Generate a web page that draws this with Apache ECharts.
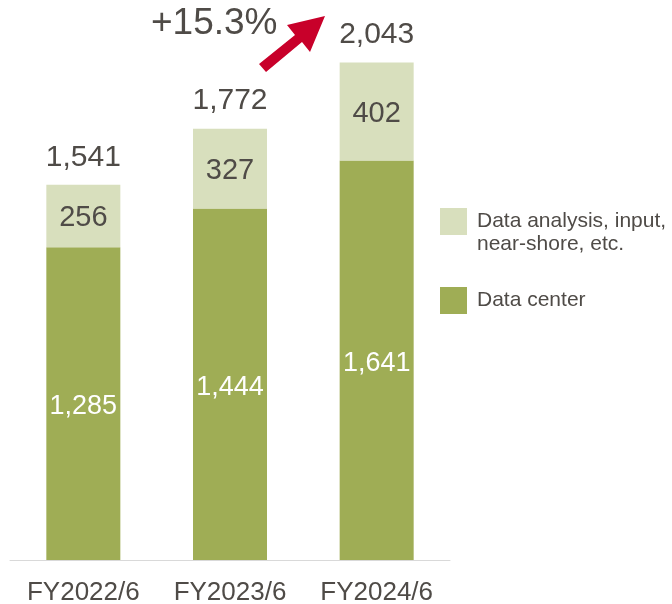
<!DOCTYPE html>
<html>
<head>
<meta charset="utf-8">
<script src="https://cdn.jsdelivr.net/npm/echarts@6/dist/echarts.min.js"></script>
<style>html,body{margin:0;padding:0;background:#fff}#chart{width:672px;height:604px}</style>
</head>
<body>
<div id="chart"></div>
<script>
const categories = ['FY2022/6', 'FY2023/6', 'FY2024/6'];
const dataCenter = [1285, 1444, 1641];
const dataAnalysis = [256, 327, 402];
const totals = [1541, 1772, 2043];
const growthLabel = '+15.3%';
const seriesNames = ['Data analysis, input,\nnear-shore, etc.', 'Data center'];

const fmt = v => v.toLocaleString('en-US');

const FONT = '"Liberation Sans", Arial, sans-serif';
const TEXT = '#4f4b47';
const DARK = '#9fad55';
const LIGHT = '#d8dfbd';

const chart = echarts.init(document.getElementById('chart'), null, {renderer: 'canvas'});
chart.setOption({
  animation: false,
  grid: {left: 10, right: 222, top: 0, bottom: 44, containLabel: false, outerBoundsMode: 'none'},
  xAxis: {
    type: 'category',
    data: categories,
    axisLine: {lineStyle: {color: '#d9d9d9', width: 1}},
    axisTick: {show: false},
    axisLabel: {color: TEXT, fontSize: 26, lineHeight: 26, fontFamily: FONT, margin: 20}
  },
  yAxis: {type: 'value', min: 0, max: 2300, show: false, splitLine: {show: false}},
  legend: {
    orient: 'vertical',
    left: 440,
    top: 187,
    padding: 0,
    itemGap: 31,
    itemWidth: 27,
    itemHeight: 27,
    icon: 'rect',
    data: [seriesNames[0], seriesNames[1]],
    formatter: name => name === seriesNames[0] ? '\n' + name : name,
    textStyle: {color: TEXT, fontSize: 21, fontFamily: FONT, lineHeight: 23, padding: [0, 0, 0, 5]},
    selectedMode: false
  },
  series: [
    {
      name: seriesNames[1],
      type: 'bar',
      stack: 'total',
      barWidth: 74,
      data: dataCenter,
      itemStyle: {color: DARK},
      label: {show: true, position: 'inside', offset: [0, 3], color: '#fff', fontSize: 27, fontFamily: FONT, formatter: p => fmt(p.value)}
    },
    {
      name: seriesNames[0],
      type: 'bar',
      stack: 'total',
      barWidth: 74,
      data: dataAnalysis,
      itemStyle: {color: LIGHT},
      label: {show: true, position: 'inside', offset: [0, 2], color: TEXT, fontSize: 29, fontFamily: FONT, formatter: p => fmt(p.value)}
    },
    {
      name: 'Total',
      type: 'line',
      data: totals,
      symbol: 'circle',
      symbolSize: 1,
      itemStyle: {color: 'rgba(0,0,0,0)'},
      lineStyle: {opacity: 0},
      silent: true,
      label: {show: true, position: 'top', distance: 12, color: TEXT, fontSize: 30, fontFamily: FONT, formatter: p => fmt(p.value)}
    }
  ],
  graphic: [
    {
      type: 'text',
      left: 151,
      top: 5,
      style: {text: growthLabel, fill: TEXT, font: '37px "Liberation Sans", Arial, sans-serif'}
    },
    {
      type: 'polygon',
      shape: {points: [[259, 64], [295, 35], [287, 25], [325, 16], [310, 52], [302, 42], [266, 72]]},
      style: {fill: '#c8002a'}
    }
  ]
});
</script>
</body>
</html>
